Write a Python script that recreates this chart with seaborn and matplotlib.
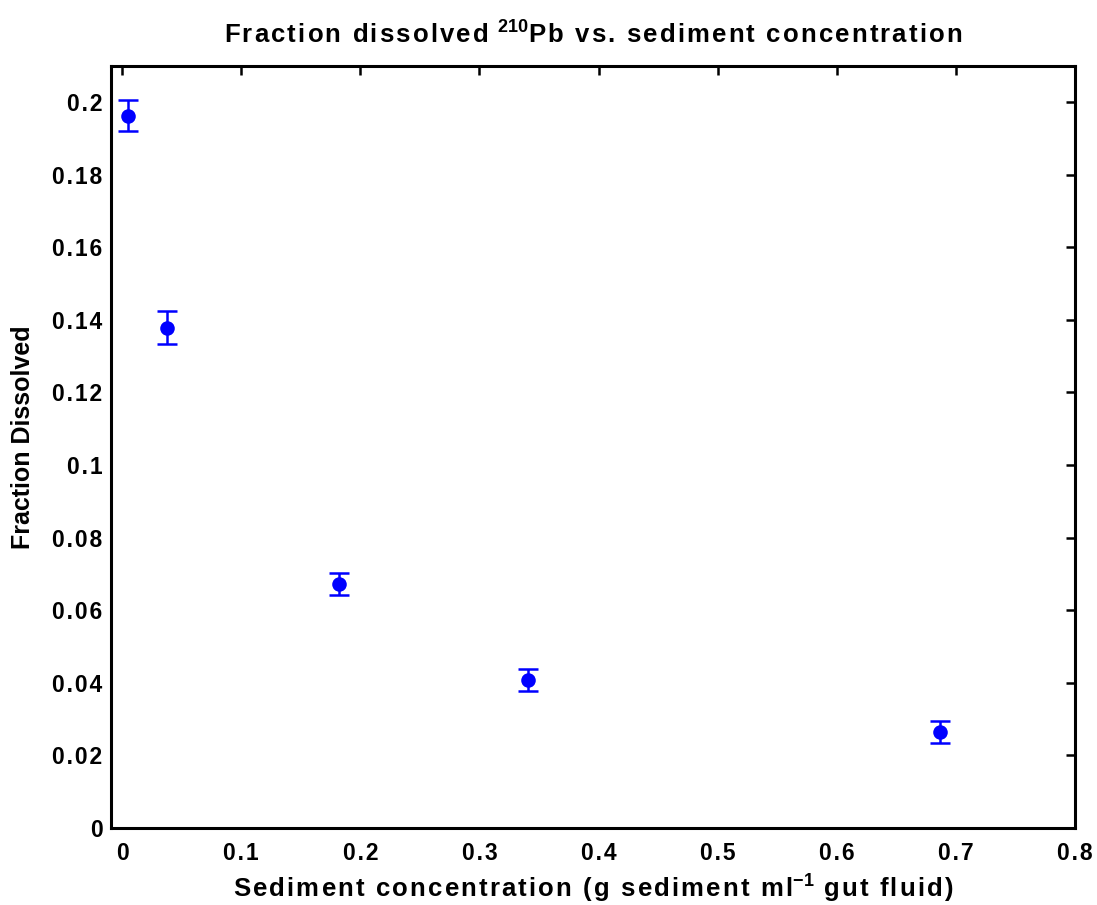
import matplotlib
matplotlib.use("Agg")
import matplotlib.pyplot as plt
import seaborn as sns
import pandas as pd

# data
sediment_conc = [0.005, 0.038, 0.182, 0.341, 0.687]
fraction_dissolved = [0.1962, 0.1378, 0.0673, 0.0407, 0.0264]
fraction_err = [0.0043, 0.0045, 0.0030, 0.0031, 0.0030]
x_ticks = [0, 0.1, 0.2, 0.3, 0.4, 0.5, 0.6, 0.7, 0.8]
x_tick_labels = ["0", "0.1", "0.2", "0.3", "0.4", "0.5", "0.6", "0.7", "0.8"]
y_ticks = [0, 0.02, 0.04, 0.06, 0.08, 0.10, 0.12, 0.14, 0.16, 0.18, 0.20]
y_tick_labels = ["0", "0.02", "0.04", "0.06", "0.08", "0.1", "0.12", "0.14", "0.16", "0.18", "0.2"]

sns.set_theme(style="white")
plt.rcParams['font.family'] = ['Liberation Sans', 'DejaVu Sans']
plt.rcParams['font.weight'] = 'bold'
plt.rcParams['text.color'] = 'black'
plt.rcParams['axes.labelcolor'] = 'black'
plt.rcParams['mathtext.fontset'] = 'custom'
plt.rcParams['mathtext.rm'] = 'Liberation Sans:bold'
plt.rcParams['mathtext.default'] = 'rm'

SP = '\u200a'
def spaced(s):
    return SP.join(list(s))

df = pd.DataFrame({"x": sediment_conc, "y": fraction_dissolved, "err": fraction_err})

fig = plt.figure(figsize=(10.97, 9.05), dpi=100)
ax = fig.add_axes([0.101, 0.0851, 0.879, 0.8423])

ax.errorbar(df["x"], df["y"], yerr=df["err"], fmt="none", ecolor="#0000ff",
            elinewidth=1.8, capsize=7, capthick=1.8, zorder=2)
sns.scatterplot(data=df, x="x", y="y", ax=ax, color="#0000ff", s=110,
                edgecolor="#0000ff", linewidth=0, zorder=3)

ax.set_xlim(-0.0095, 0.8)
ax.set_ylim(0, 0.21)
ax.set_xticks(x_ticks)
ax.set_xticklabels([spaced(t) for t in x_tick_labels])
ax.set_yticks(y_ticks)
ax.set_yticklabels([spaced(t) for t in y_tick_labels])

for sp in ax.spines.values():
    sp.set_visible(True)
    sp.set_color("black")
    sp.set_linewidth(2.2)

ax.tick_params(axis="both", which="both", direction="in", length=6.5, width=1.8,
               colors="black", labelcolor="black", labelsize=16.5, top=True, right=True)
ax.tick_params(axis="x", pad=10)
ax.tick_params(axis="y", pad=6)
for lbl in ax.get_xticklabels() + ax.get_yticklabels():
    lbl.set_fontweight("bold")

ax.set_xlabel(spaced("Sediment concentration (g sediment ml") + r"$^{-1}$" + spaced(" gut fluid)"),
              fontsize=18.5, fontweight="bold", labelpad=6, color="black")
ax.set_ylabel("Fraction Dissolved", fontsize=18, fontweight="bold", color="black")
ax.yaxis.set_label_coords(-0.0785, 0.513)
ax.set_title(spaced("Fraction dissolved ") + r"$^{210}$" + spaced("Pb vs. sediment concentration"),
             fontsize=18.5, fontweight="bold", pad=16, color="black")

fig.savefig("out.png", dpi=100, facecolor="white")
